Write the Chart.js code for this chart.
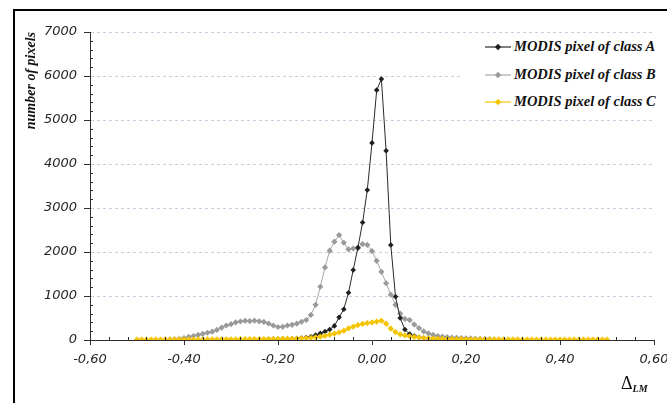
<!DOCTYPE html>
<html><head><meta charset="utf-8">
<script src="https://cdn.jsdelivr.net/npm/chart.js@4/dist/chart.umd.min.js"></script>
<style>
html,body{margin:0;padding:0;background:#fff;overflow:hidden;width:667px;height:403px;position:relative;}
#frame{position:absolute;left:13px;top:9px;width:720px;height:440px;border:2px solid #000;box-sizing:border-box;}
#c{position:absolute;left:0;top:0;}
#legend{position:absolute;left:463px;top:37px;width:204px;height:76px;background:#fff;}
.row{position:absolute;left:0;width:204px;height:18px;}
.row svg{position:absolute;left:22px;top:5px;}
.row span{position:absolute;left:51px;top:-1px;font:italic bold 14.5px "Liberation Serif",serif;color:#111;white-space:nowrap;line-height:18px;}
#xt{position:absolute;left:621px;top:373px;font:18px "Liberation Serif",serif;color:#111;white-space:nowrap;}
#xt sub{font:italic bold 10px "Liberation Serif",serif;vertical-align:-3px;}
</style></head>
<body>
<div id="frame"></div>
<canvas id="c" width="667" height="403"></canvas>
<div id="legend"></div>
<div id="xt">Δ<sub>LM</sub></div>
<script>
const xs = [-0.50,-0.49,-0.48,-0.47,-0.46,-0.45,-0.44,-0.43,-0.42,-0.41,
 -0.40,-0.39,-0.38,-0.37,-0.36,-0.35,-0.34,-0.33,-0.32,-0.31,
 -0.30,-0.29,-0.28,-0.27,-0.26,-0.25,-0.24,-0.23,-0.22,-0.21,
 -0.20,-0.19,-0.18,-0.17,-0.16,-0.15,-0.14,-0.13,-0.12,-0.11,
 -0.10,-0.09,-0.08,-0.07,-0.06,-0.05,-0.04,-0.03,-0.02,-0.01,
 0.00,0.01,0.02,0.03,0.04,0.05,0.06,0.07,0.08,0.09,
 0.10,0.11,0.12,0.13,0.14,0.15,0.16,0.17,0.18,0.19,
 0.20,0.21,0.22,0.23,0.24,0.25,0.26,0.27,0.28,0.29,
 0.30,0.31,0.32,0.33,0.34,0.35,0.36,0.37,0.38,0.39,
 0.40,0.41,0.42,0.43,0.44,0.45,0.46,0.47,0.48,0.49,0.50];

const seriesNames = ['MODIS pixel of class A','MODIS pixel of class B','MODIS pixel of class C'];

const classA = [null,null,null,null,null,null,null,null,null,null,
 null,null,null,null,null,null,null,null,null,null,
 null,null,null,null,null,null,null,null,15,20,
 15,25,20,30,35,45,55,75,110,150,
 190,240,320,515,700,1075,1590,2100,2670,3410,
 4480,5680,5930,4300,2160,985,500,240,136,90,
 60,45,35,28,22,18,15,12,10,8,
 6,null,null,null,null,null,null,null,null,null,
 null,null,null,null,null,null,null,null,null,null,
 null,null,null,null,null,null,null,null,null,null,null];

const classB = [null,null,null,null,null,null,null,10,15,25,
 45,70,90,115,140,165,190,230,280,330,
 360,400,420,435,430,440,425,410,375,330,
 295,300,330,345,370,415,455,570,800,1210,
 1650,2030,2235,2386,2210,2060,2080,2080,2180,2160,
 2020,1800,1550,1290,1030,800,600,480,455,350,
 270,195,150,115,90,75,65,55,50,45,
 40,35,30,25,20,15,10,8,null,null,
 null,null,null,null,null,null,null,null,null,null,
 null,null,null,null,null,null,null,null,null,null,null];

const classC = [10,10,10,10,12,10,12,12,10,12,
 12,12,14,12,14,14,15,14,15,16,
 16,17,18,18,19,20,20,21,22,23,
 25,27,29,31,34,38,43,50,60,75,
 95,120,145,175,212,262,303,340,365,385,
 400,418,440,370,260,180,130,105,85,70,
 58,48,40,34,30,26,23,21,19,18,
 17,16,15,15,14,14,13,13,12,12,
 12,12,11,11,11,11,10,10,10,10,
 10,10,10,10,10,10,10,10,10,10,10];

const xTickLabels = ['-0,60','-0,40','-0,20','0,00','0,20','0,40','0,60'];
const yTickLabels = ['0','1000','2000','3000','4000','5000','6000','7000'];

const lineColors = ['#2a2a2a','#a8a8a8','#f5c400'];
const markColors = ['#1e1e1e','#9a9a9a','#f5c400'];

const toPoints = arr => xs.map((x, i) => ({x: x, y: arr[i]}));

const axisColor = '#2e2e2e';
const tickFont = {family: 'DejaVu Sans', style: 'italic', size: 13};

const minorTicks = {
  id: 'minorTicks',
  afterDraw(chart) {
    const {ctx, scales: {x, y}} = chart;
    ctx.save();
    ctx.strokeStyle = axisColor;
    ctx.lineWidth = 1;
    ctx.beginPath();
    for (let v = 200; v < 7000; v += 200) {
      if (v % 1000 === 0) continue;
      const py = Math.round(y.getPixelForValue(v)) + 0.5;
      ctx.moveTo(x.left, py); ctx.lineTo(x.left + 3, py);
    }
    for (let k = -15; k <= 15; k++) {
      if (k % 5 === 0) continue;
      const px = Math.round(x.getPixelForValue(k * 0.04)) + 0.5;
      ctx.moveTo(px, y.bottom); ctx.lineTo(px, y.bottom - 3);
    }
    ctx.stroke();
    ctx.restore();
  }
};

const datasets = [classA, classB, classC].map((arr, i) => ({
  label: seriesNames[i],
  data: toPoints(arr),
  borderColor: lineColors[i],
  backgroundColor: markColors[i],
  borderWidth: 1,
  pointStyle: 'rectRot',
  pointRadius: i === 0 ? 2.8 : 3.1,
  pointBorderWidth: 0,
  pointBackgroundColor: markColors[i],
  tension: 0,
  order: [1, 2, 0][i]
}));

new Chart(document.getElementById('c'), {
  type: 'line',
  data: {datasets},
  plugins: [minorTicks],
  options: {
    responsive: false,
    animation: false,
    devicePixelRatio: 1,
    layout: {padding: {left: 0, top: 32, right: 13, bottom: 0}},
    plugins: {legend: {display: false}, tooltip: {enabled: false}},
    scales: {
      x: {
        type: 'linear', min: -0.6, max: 0.6,
        afterFit: s => { s.height = 63; s.paddingLeft = 0; s.paddingRight = 0; },
        ticks: {stepSize: 0.2, autoSkip: false, maxRotation: 0, padding: 7, color: '#262626', font: tickFont,
          callback: (v, i) => xTickLabels[i]},
        grid: {drawOnChartArea: false, drawTicks: true, tickLength: 5, tickColor: axisColor, tickWidth: 1},
        border: {display: true, color: axisColor, width: 1}
      },
      y: {
        min: 0, max: 7000,
        afterFit: s => { s.width = 90; s.paddingTop = 0; s.paddingBottom = 0; },
        ticks: {stepSize: 1000, padding: 7, color: '#262626', font: tickFont,
          callback: (v, i) => yTickLabels[i]},
        grid: {drawOnChartArea: true, color: '#c9cde0', lineWidth: 1, tickLength: 6, tickColor: axisColor, tickWidth: 1},
        border: {display: true, color: axisColor, width: 1, dash: [3, 3]},
        title: {display: true, text: 'number of pixels', align: 'end', color: '#111',
          font: {family: 'Liberation Serif', style: 'italic', weight: 'bold', size: 14},
          padding: {top: 23, bottom: 0}}
      }
    }
  }
});

const leg = document.getElementById('legend');
const rowTops = [1, 29, 56];
seriesNames.forEach((name, i) => {
  const row = document.createElement('div');
  row.className = 'row';
  row.style.top = rowTops[i] + 'px';
  row.innerHTML = '<svg width="26" height="8"><line x1="0" y1="4" x2="26" y2="4" stroke="' + lineColors[i] +
    '" stroke-width="1.2"/><polygon points="13,0.8 16.2,4 13,7.2 9.8,4" fill="' + markColors[i] + '"/></svg><span>' + name + '</span>';
  leg.appendChild(row);
});
</script>
</body></html>
